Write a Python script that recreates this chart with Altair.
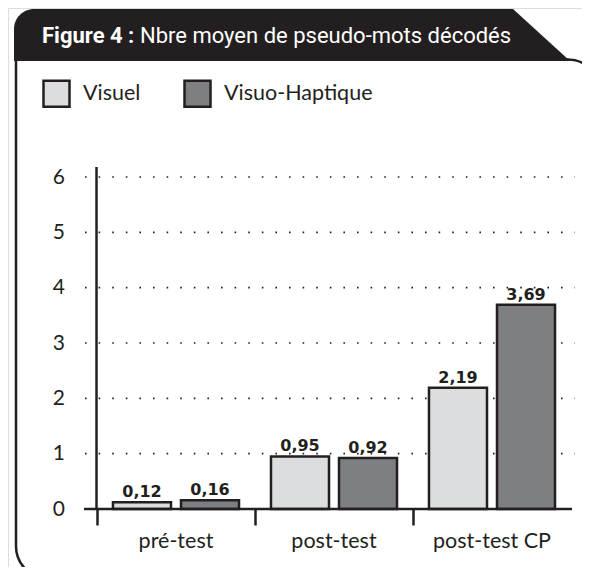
import altair as alt
import pandas as pd

# ---- data ----
categories = ["pré-test", "post-test", "post-test CP"]
groups = ["Visuel", "Visuo-Haptique"]
visuel = [0.12, 0.95, 2.19]
visuo = [0.16, 0.92, 3.69]
y_ticks = [0, 1, 2, 3, 4, 5, 6]
group_colors = ["#dcdddf", "#7e7f82"]
title_bold = "Figure 4 :"
title_rest = "Nbre moyen de pseudo-mots décodés"

rows = []
for i, c in enumerate(categories):
    rows.append({"cat": c, "grp": groups[0], "val": visuel[i]})
    rows.append({"cat": c, "grp": groups[1], "val": visuo[i]})
df = pd.DataFrame(rows)
df["label"] = df["val"].map(lambda v: f"{v:.2f}".replace(".", ","))

INK = "#231f20"
W, H = 574, 559
AX_Y = 501  # view y of value 0
one = pd.DataFrame({"a": [0]})

x_scale = alt.Scale(domain=categories, range=[89, 563], paddingInner=0, paddingOuter=0)
xo_scale = alt.Scale(domain=groups, paddingInner=0.147, paddingOuter=0.235)
y_scale = alt.Scale(domain=[0, 6], range=[AX_Y, 169], nice=False, zero=True)

y_axis = alt.Axis(title=None, orient="left", offset=-88.5, values=y_ticks, grid=False,
                  ticks=False, domain=False, labelPadding=32, labelFont="Lato",
                  labelFontSize=21, labelColor=INK)

# ---- decoration: frame and header ----
frame_path = ("M8,53L8,538C8,556.2 22.8,571 41,571L560,571C578.2,571 593,556.2 593,538"
              "L593,84.5C593,66.3 578.2,51.5 560,51.5L540,51.5")
frame = alt.Chart(one).mark_point(
    shape=frame_path, size=4, filled=False, color=INK, opacity=1, strokeWidth=2.5
).encode(x=alt.value(0), y=alt.value(0))

header_path = "M6,53L6,21C6,10 15,1 26,1L505,1L562,53Z"
header = alt.Chart(one).mark_point(
    shape=header_path, size=4, filled=True, fill=INK, opacity=1, strokeWidth=0
).encode(x=alt.value(0), y=alt.value(0))

t1 = alt.Chart(one).mark_text(
    text=title_bold, font="Roboto", fontWeight="bold", fontSize=22,
    color="white", align="left", baseline="alphabetic",
).encode(x=alt.value(34), y=alt.value(35))
t2 = alt.Chart(one).mark_text(
    text=title_rest, font="Roboto", fontSize=22,
    color="white", align="left", baseline="alphabetic",
).encode(x=alt.value(132), y=alt.value(35))

# ---- grid and axis lines ----
grid = alt.Chart(pd.DataFrame({"v": y_ticks[1:]})).mark_rule(
    color=INK, strokeWidth=1.6, strokeDash=[1.6, 12]
).encode(y=alt.Y("v:Q", scale=y_scale, axis=y_axis), x=alt.value(77), x2=alt.value(567))

zero = alt.Chart(pd.DataFrame({"v": [0]})).mark_rule(
    color=INK, strokeWidth=2.5
).encode(y=alt.Y("v:Q", scale=y_scale, axis=y_axis), x=alt.value(76), x2=alt.value(564))

y_line = alt.Chart(one).mark_rule(color=INK, strokeWidth=2.5).encode(
    x=alt.value(88.5), y=alt.value(159), y2=alt.value(AX_Y))

# ---- bars ----
bars = alt.Chart(df).mark_bar(stroke=INK, strokeWidth=2.5).encode(
    x=alt.X("cat:N", scale=x_scale, sort=categories,
            axis=alt.Axis(title=None, orient="bottom", offset=AX_Y - H, domain=False, ticks=False,
                          grid=False, labelAngle=0, labelPadding=21, labelFont="Lato",
                          labelFontSize=21.5, labelColor=INK)),
    xOffset=alt.XOffset("grp:N", scale=xo_scale, sort=groups),
    y=alt.Y("val:Q", scale=y_scale, axis=y_axis),
    color=alt.Color("grp:N", scale=alt.Scale(domain=groups, range=group_colors), sort=groups,
                    legend=alt.Legend(title=None, orient="none", legendX=34, legendY=71,
                                      direction="horizontal", symbolType="square", symbolSize=676,
                                      symbolStrokeColor=INK, symbolStrokeWidth=2.5, symbolOpacity=1,
                                      labelFont="Lato", labelFontSize=21.5, labelColor=INK,
                                      labelOffset=12, columnPadding=38, padding=0)),
)

labels = alt.Chart(df).mark_text(
    font="DejaVu Sans", fontWeight="bold", fontSize=16, color=INK, baseline="alphabetic", dy=-5
).encode(
    x=alt.X("cat:N", scale=x_scale, sort=categories,
            axis=alt.Axis(title=None, orient="bottom", offset=AX_Y - H, bandPosition=0, labels=False,
                          domain=False, ticks=True, tickSize=16, tickWidth=2.5, tickColor=INK,
                          grid=False)),
    xOffset=alt.XOffset("grp:N", scale=xo_scale, sort=groups),
    y=alt.Y("val:Q", scale=y_scale, axis=y_axis),
    text="label:N",
)

chart = alt.layer(frame, header, t1, t2, grid, y_line, bars, labels, zero).resolve_axis(
    x="independent"
).properties(
    width=W, height=H, padding=0, autosize=alt.AutoSizeParams(type="none")
).configure_view(stroke="transparent").configure(background="white")

chart.save("out.html", embed_options={"renderer": "svg", "actions": False})
